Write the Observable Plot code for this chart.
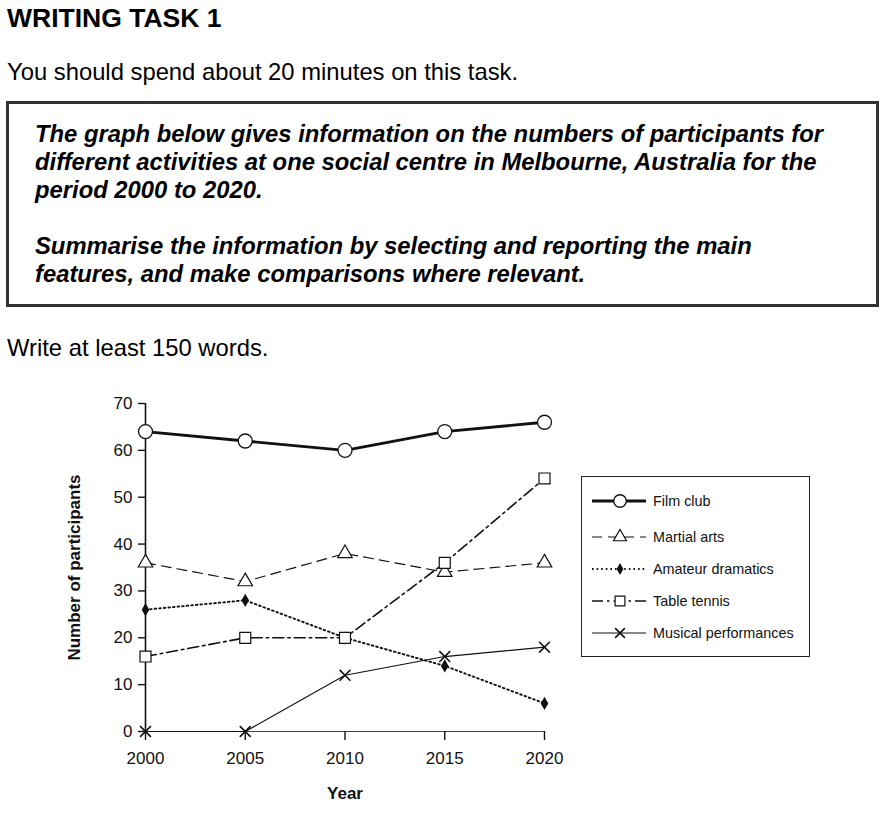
<!DOCTYPE html>
<html><head><meta charset="utf-8">
<script src="https://cdn.jsdelivr.net/npm/d3@7"></script>
<script src="https://cdn.jsdelivr.net/npm/@observablehq/plot@0.6"></script>
<style>
body{margin:0;background:#fff;font-family:Arial,"Liberation Sans",sans-serif;color:#000;}
#page{position:relative;width:889px;height:824px;overflow:hidden;}
.t{position:absolute;white-space:nowrap;}
#h1{left:7px;top:4px;font-size:26.5px;line-height:28px;font-weight:bold;}
#p1{left:7px;top:58px;font-size:23.8px;line-height:28px;}
#box{position:absolute;left:6px;top:101px;width:873px;height:206px;border:3px solid #333;box-sizing:border-box;}
.bt{position:absolute;left:26px;font-size:23.8px;line-height:28px;font-weight:bold;font-style:italic;white-space:nowrap;}
#p2{left:7px;top:334px;font-size:23.8px;line-height:28px;}
#chart{position:absolute;left:0;top:380px;}
#legend{position:absolute;left:581px;top:476px;width:229px;height:181px;border:1.5px solid #222;box-sizing:border-box;}
.lrow{position:absolute;left:0;height:20px;}
.lrow svg{position:absolute;left:9px;top:0;}
.lrow span{position:absolute;left:71px;top:1px;font-size:14.4px;line-height:18px;white-space:nowrap;color:#111;}
g[aria-label="y-axis label"] text, g[aria-label="x-axis label"] text{font-weight:bold;font-size:17px;fill:#111;}
</style></head>
<body>
<div id="page">
  <div class="t" id="h1">WRITING TASK 1</div>
  <div class="t" id="p1">You should spend about 20 minutes on this task.</div>
  <div id="box">
    <div class="bt" style="top:16px">The graph below gives information on the numbers of participants for</div>
    <div class="bt" style="top:44px">different activities at one social centre in Melbourne, Australia for the</div>
    <div class="bt" style="top:72px">period 2000 to 2020.</div>
    <div class="bt" style="top:128px">Summarise the information by selecting and reporting the main</div>
    <div class="bt" style="top:156px">features, and make comparisons where relevant.</div>
  </div>
  <div class="t" id="p2">Write at least 150 words.</div>
  <div id="chart"></div>
  <div id="legend"></div>
</div>
<script>
const years = [2000, 2005, 2010, 2015, 2020];
const filmClub = [64, 62, 60, 64, 66];
const martialArts = [36, 32, 38, 34, 36];
const amateurDramatics = [26, 28, 20, 14, 6];
const tableTennis = [16, 20, 20, 36, 54];
const musicalPerformances = [0, 0, 12, 16, 18];
const seriesNames = ["Film club", "Martial arts", "Amateur dramatics", "Table tennis", "Musical performances"];
const yTicks = [0, 10, 20, 30, 40, 50, 60, 70];

const seriesValues = [filmClub, martialArts, amateurDramatics, tableTennis, musicalPerformances];
const rows = seriesNames.flatMap((name, i) => years.map((year, j) => ({name, year, value: seriesValues[i][j]})));

const styles = {
  "Film club": {sw: 2.8, dash: null, symbol: "circle", r: 7, fill: "white", stroke: "#111", dsw: 1.3},
  "Martial arts": {sw: 1.2, dash: "10,6", symbol: "triangle", r: 5.4, fill: "white", stroke: "#111", dsw: 1.2},
  "Amateur dramatics": {sw: 1.9, dash: "1.6,3", symbol: "diamond", r: 4, fill: "#111", stroke: "none", dsw: 0},
  "Table tennis": {sw: 1.6, dash: "11,4,2.5,4", symbol: "square", r: 6.2, fill: "white", stroke: "#111", dsw: 1.2},
  "Musical performances": {sw: 1.2, dash: null, symbol: "times", r: 5, fill: "none", stroke: "#111", dsw: 1.6}
};

const marks = [
  Plot.ruleY([0], {x1: years[0], x2: years[years.length - 1], stroke: "#444", strokeWidth: 1}),
  Plot.ruleX([years[0]], {y1: 0, y2: yTicks[yTicks.length - 1], stroke: "#111", strokeWidth: 1.6}),
  Plot.axisY({ticks: yTicks, tickSize: 7, tickPadding: 6, fontSize: 17, label: "Number of participants", labelAnchor: "center", labelArrow: "none", labelOffset: 78, stroke: "#111", fill: "#111", strokeWidth: 1.4}),
  Plot.axisX({ticks: years, tickSize: 9, tickPadding: 11, tickFormat: "d", fontSize: 17, label: "Year", labelAnchor: "center", labelArrow: "none", labelOffset: 67, stroke: "#111", fill: "#111", strokeWidth: 1.4})
];
for (const name of seriesNames) {
  const s = styles[name];
  marks.push(Plot.line(rows.filter(d => d.name === name), {x: "year", y: "value", stroke: "#111", strokeWidth: s.sw, strokeDasharray: s.dash}));
}
for (const name of seriesNames) {
  const s = styles[name];
  marks.push(Plot.dot(rows.filter(d => d.name === name), {x: "year", y: "value", symbol: () => s.symbol, r: s.r, fill: s.fill, stroke: s.stroke, strokeWidth: s.dsw}));
}

const chart = Plot.plot({
  width: 580, height: 430,
  marginLeft: 145, marginRight: 36, marginTop: 23, marginBottom: 79,
  style: {fontFamily: "Arial, 'Liberation Sans', sans-serif", fontSize: "17px", color: "#111", background: "white", overflow: "visible"},
  x: {domain: [years[0], years[years.length - 1]]},
  y: {domain: [yTicks[0], yTicks[yTicks.length - 1]]},
  symbol: {type: "identity"},
  marks
});
document.getElementById("chart").appendChild(chart);

// legend
const legend = d3.select("#legend");
const rowTops = [14, 50, 82, 114, 146];
seriesNames.forEach((name, i) => {
  const s = styles[name];
  const row = legend.append("div").attr("class", "lrow").style("top", rowTops[i] + "px").style("width", "220px");
  const svg = row.append("svg").attr("width", 60).attr("height", 20);
  svg.append("line").attr("x1", 1).attr("x2", 55).attr("y1", 10).attr("y2", 10)
    .attr("stroke", "#111").attr("stroke-width", s.sw).attr("stroke-dasharray", s.dash);
  const sym = {circle: d3.symbolCircle, triangle: d3.symbolTriangle, diamond: d3.symbolDiamond, square: d3.symbolSquare, times: d3.symbolTimes}[s.symbol];
  svg.append("path").attr("transform", "translate(29,10)")
    .attr("d", d3.symbol(sym, Math.PI * s.r * s.r * 0.8)())
    .attr("fill", s.fill).attr("stroke", s.stroke).attr("stroke-width", s.dsw);
  row.append("span").text(name);
});
</script>
</body></html>
